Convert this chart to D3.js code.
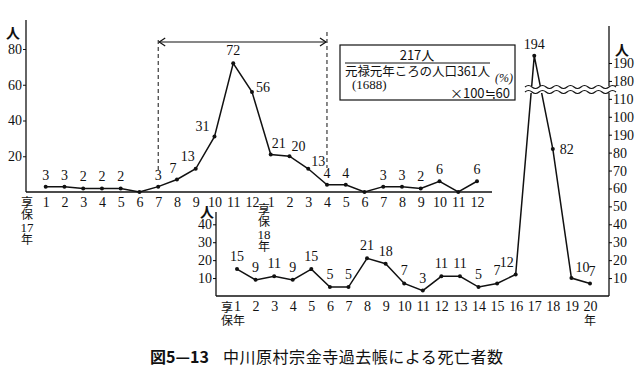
<!DOCTYPE html>
<html><head><meta charset="utf-8">
<script src="https://cdn.jsdelivr.net/npm/d3@7"></script>
<style>
html,body{margin:0;padding:0;background:#fff;}
svg{display:block;}
text{font-family:"Liberation Serif","DejaVu Serif",serif;fill:#111;}
.jp{font-family:"Noto Sans CJK JP","Noto Sans",sans-serif;}
</style></head>
<body>
<svg id="c" width="640" height="381"></svg>
<script>
// ---------- data ----------
const topMonths = ["1","2","3","4","5","6","7","8","9","10","11","12","1","2","3","4","5","6","7","8","9","10","11","12"];
const topDeaths = [3,3,2,2,2,0,3,7,13,31,72,56, 21,20,13,4,4,0,3,3,2,6,0,6];
const topYTicks = [20,40,60,80];
const lowYears = ["1","2","3","4","5","6","7","8","9","10","11","12","13","14","15","16","17","18","19","20"];
const lowDeaths = [15,9,11,9,15,5,5,21,18,7,3,11,11,5,7,12,194,82,10,7];
const lowLeftTicks = [10,20,30,40];
const rightTickValues = [10,20,30,40,50,60,70,80,90,100,110,180,190];
const rightTickLabels = ["10","20","30","40","50","60","70","80","190","100","110","180","190"];
const year17 = ["享","保","17","年"];
const year18 = ["享","保","18","年"];
const boxNumerator = "217人";
const boxDenominator = "元禄元年ころの人口361人";
const captionNo = "図5—13";
const caption = "中川原村宗金寺過去帳による死亡者数";

const svg = d3.select("#c");
const ink = "#111";
const numFont = "Liberation Serif";

// ---------- top chart ----------
const xT = d3.scaleLinear().domain([0,23]).range([45.7,477]);
const yT = d3.scaleLinear().domain([0,80]).range([192,49]);

svg.append("line").attr("x1",26).attr("x2",26).attr("y1",20).attr("y2",192).attr("stroke",ink).attr("stroke-width",1.3);
svg.append("line").attr("x1",26).attr("x2",492).attr("y1",192).attr("y2",192).attr("stroke",ink).attr("stroke-width",1.3);

const gyT = svg.append("g").attr("transform","translate(26,0)")
  .call(d3.axisLeft(yT).tickValues(topYTicks).tickSize(3).tickPadding(1));
gyT.select(".domain").remove();
gyT.selectAll("text").attr("font-size",14).style("font-family",numFont);
gyT.selectAll("line").attr("stroke",ink);

const gxT = svg.append("g").attr("transform","translate(0,192)")
  .call(d3.axisBottom(xT).tickValues(d3.range(24)).tickFormat(i=>topMonths[i]).tickSize(0).tickPadding(5));
gxT.select(".domain").remove();
gxT.selectAll("text").attr("font-size",14).style("font-family",numFont);

svg.append("path").datum(topDeaths)
  .attr("d", d3.line().x((d,i)=>xT(i)).y(d=>yT(d)))
  .attr("fill","none").attr("stroke",ink).attr("stroke-width",1.5);
svg.selectAll(".pt").data(topDeaths).join("circle")
  .attr("cx",(d,i)=>xT(i)).attr("cy",d=>yT(d)).attr("r",2).attr("fill",ink);

const topOff = {7:[-4,-6],8:[-8,-8],9:[-12,-6],10:[0,-8],11:[11,0],12:[8,-6],13:[9,-5],14:[10,-3]};
svg.selectAll(".tl").data(topDeaths.map((d,i)=>({d,i})).filter(o=>o.d>0)).join("text")
  .attr("x",o=>xT(o.i)+(topOff[o.i]?topOff[o.i][0]:0))
  .attr("y",o=>yT(o.d)+(topOff[o.i]?topOff[o.i][1]:-7))
  .attr("text-anchor","middle").attr("font-size",14).text(o=>o.d);

svg.append("text").attr("class","jp").attr("x",13).attr("y",38).attr("text-anchor","middle").attr("font-size",14).attr("font-weight","bold").text("人");

function vertLabel(parts, x, y0){
  const t = svg.append("text").attr("text-anchor","middle").attr("font-size",12);
  const ys = [0,12,25,37];
  parts.forEach((p,k)=>{
    t.append("tspan").attr("x",x).attr("y",y0+ys[k])
      .style("font-family",/\d/.test(p)?numFont:"Noto Sans CJK JP")
      .attr("font-size",/\d/.test(p)?13:12).text(p);
  });
}
vertLabel(year17, 27, 207);
vertLabel(year18, 264, 214);

// dashed range + arrow
const xa = xT(6), xb = xT(15);
svg.append("line").attr("x1",xa).attr("x2",xa).attr("y1",40).attr("y2",170).attr("stroke",ink).attr("stroke-dasharray","4,3").attr("stroke-width",1);
svg.append("line").attr("x1",xb).attr("x2",xb).attr("y1",32).attr("y2",168).attr("stroke",ink).attr("stroke-dasharray","4,3").attr("stroke-width",1);
svg.append("line").attr("x1",xa+1).attr("x2",xb-1).attr("y1",42).attr("y2",42).attr("stroke",ink).attr("stroke-width",1.2);
svg.append("path").attr("d",`M${xa+7},38 L${xa+1},42 L${xa+7},46`).attr("fill","none").attr("stroke",ink).attr("stroke-width",1.2);
svg.append("path").attr("d",`M${xb-7},38 L${xb-1},42 L${xb-7},46`).attr("fill","none").attr("stroke",ink).attr("stroke-width",1.2);

// box
svg.append("rect").attr("x",340).attr("y",45).attr("width",175).attr("height",55).attr("fill","none").attr("stroke",ink).attr("stroke-width",1.2);
svg.append("text").attr("class","jp").attr("x",417).attr("y",60).attr("text-anchor","middle").attr("font-size",13).text(boxNumerator);
svg.append("line").attr("x1",345).attr("x2",490).attr("y1",63).attr("y2",63).attr("stroke",ink);
svg.append("text").attr("class","jp").attr("x",345).attr("y",76).attr("font-size",12.5).attr("textLength",145).text(boxDenominator);
svg.append("text").attr("x",495).attr("y",82).attr("font-size",12).attr("font-style","italic").text("(%)");
svg.append("text").attr("x",352).attr("y",89).attr("font-size",13).text("(1688)");
svg.append("text").attr("class","jp").attr("x",510).attr("y",98).attr("text-anchor","end").attr("font-size",13).text("×100≒60");

// ---------- lower chart ----------
const xL = d3.scaleLinear().domain([0,19]).range([237,590]);
const brk = v => v>115 ? v-60 : v;
const yL = d3.scaleLinear().domain([0,130]).range([296,63]);

svg.append("line").attr("x1",216).attr("x2",216).attr("y1",212).attr("y2",296).attr("stroke",ink).attr("stroke-width",1.3);
svg.append("line").attr("x1",216).attr("x2",609).attr("y1",296).attr("y2",296).attr("stroke",ink).attr("stroke-width",1.3);
svg.append("line").attr("x1",609).attr("x2",609).attr("y1",26).attr("y2",296).attr("stroke",ink).attr("stroke-width",1.3);

const gyl = svg.append("g").attr("transform","translate(216,0)")
  .call(d3.axisLeft(yL).tickValues(lowLeftTicks).tickSize(3).tickPadding(1));
gyl.select(".domain").remove();
gyl.selectAll("text").attr("font-size",14).style("font-family",numFont);

const gyr = svg.append("g").attr("transform","translate(609,0)")
  .call(d3.axisRight(yL).tickValues(rightTickValues.map(brk)).tickSize(3).tickPadding(1)
    .tickFormat((v,i)=>rightTickLabels[i]));
gyr.select(".domain").remove();
gyr.selectAll("text").attr("font-size",14).style("font-family",numFont);

const gxl = svg.append("g").attr("transform","translate(0,296)")
  .call(d3.axisBottom(xL).tickValues(d3.range(20)).tickFormat(i=>lowYears[i]).tickSize(0).tickPadding(5));
gxl.select(".domain").remove();
gxl.selectAll("text").attr("font-size",14).style("font-family",numFont);

svg.append("path").datum(lowDeaths)
  .attr("d", d3.line().x((d,i)=>xL(i)).y(d=>yL(brk(d))))
  .attr("fill","none").attr("stroke",ink).attr("stroke-width",1.5);
svg.selectAll(".lp").data(lowDeaths).join("circle")
  .attr("cx",(d,i)=>xL(i)).attr("cy",d=>yL(brk(d))).attr("r",2).attr("fill",ink);

const lowOff = {15:[-9,-7],16:[0,-7],17:[14,5],18:[11,-6],19:[2,-7]};
svg.selectAll(".ll").data(lowDeaths.map((d,i)=>({d,i}))).join("text")
  .attr("x",o=>xL(o.i)+(lowOff[o.i]?lowOff[o.i][0]:0))
  .attr("y",o=>yL(brk(o.d))+(lowOff[o.i]?lowOff[o.i][1]:-8))
  .attr("text-anchor","middle").attr("font-size",14).text(o=>o.d);

// break marks
const wave = (y0)=>{ let p=`M525,${y0}`; for(let x=525;x<614;x+=7){ p+=` Q${x+3.5},${y0+((x-525)/7%2===0?-3:3)} ${x+7},${y0}`;} return p; };
svg.append("rect").attr("x",523).attr("y",86).attr("width",92).attr("height",7).attr("fill","#fff");
svg.append("path").attr("d",wave(87)).attr("fill","none").attr("stroke",ink).attr("stroke-width",1.2);
svg.append("path").attr("d",wave(92)).attr("fill","none").attr("stroke",ink).attr("stroke-width",1.2);

svg.append("text").attr("class","jp").attr("x",207).attr("y",217).attr("text-anchor","middle").attr("font-size",14).attr("font-weight","bold").text("人");
svg.append("text").attr("class","jp").attr("x",622).attr("y",55).attr("text-anchor","middle").attr("font-size",14).attr("font-weight","bold").text("人");
const hoText = svg.append("text").attr("class","jp").attr("font-size",12).attr("text-anchor","middle");
hoText.append("tspan").attr("x",227).attr("y",312).text("享");
hoText.append("tspan").attr("x",227).attr("y",325).text("保");
hoText.append("tspan").attr("x",239).attr("y",325).text("年");
svg.append("text").attr("class","jp").attr("x",590).attr("y",325).attr("text-anchor","middle").attr("font-size",12).text("年");

// caption
svg.append("text").attr("class","jp").attr("x",150).attr("y",363).attr("font-size",16).attr("font-weight","bold").text(captionNo);
svg.append("text").attr("class","jp").attr("x",223).attr("y",363).attr("font-size",16).attr("textLength",280).text(caption);
</script>
</body></html>
